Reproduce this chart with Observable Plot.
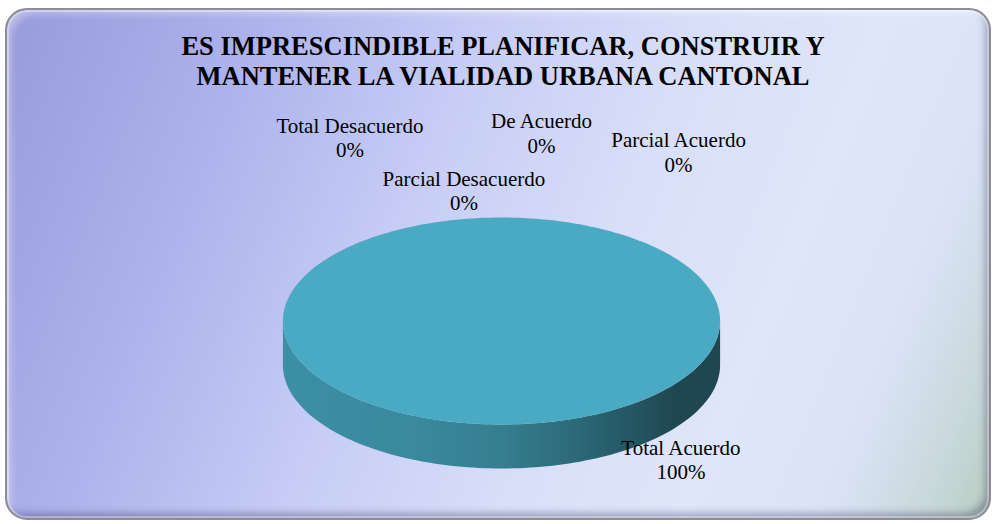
<!DOCTYPE html>
<html>
<head>
<meta charset="utf-8">
<script src="https://cdn.jsdelivr.net/npm/d3@7"></script>
<script src="https://cdn.jsdelivr.net/npm/@observablehq/plot@0.6"></script>
<style>
  html, body { margin: 0; padding: 0; background: #ffffff; }
  #wrap { position: relative; width: 994px; height: 524px; overflow: hidden; }
  #frame {
    position: absolute; left: 5px; top: 8px; width: 982px; height: 508px;
    border: 2px solid #8b8c95; border-radius: 22px;
    background: linear-gradient(112deg, #979bdb 0%, #aeb3ec 22%, #c6ccf5 40%, #d7def8 58%, #dfe6f9 74%, #dae3f6 86%, #c9d8dc 94%, #b9ccc0 100%);
    box-shadow: inset 0 0 0 2px rgba(255,255,255,0.35),
                inset 9px 9px 7px -5px rgba(255,255,255,0.35),
                inset -6px -7px 7px -2px rgba(40,40,80,0.35);
  }
  #title {
    position: absolute; left: 0; top: 31px; width: 1006px; text-align: center;
    font-family: "Liberation Serif", "Times New Roman", serif; font-weight: bold;
    font-size: 26.5px; line-height: 30px; color: #000;
  }
  #chart { position: absolute; left: 0; top: 0; }
</style>
</head>
<body>
<div id="wrap">
  <div id="frame"></div>
  <div id="title"></div>
  <div id="chart"></div>
</div>
<script>
// ---- data ----
const titleLines = ["ES IMPRESCINDIBLE PLANIFICAR, CONSTRUIR Y", "MANTENER LA VIALIDAD URBANA CANTONAL"];
const categories = ["Total Desacuerdo", "Parcial Desacuerdo", "De Acuerdo", "Parcial Acuerdo", "Total Acuerdo"];
const percentages = [0, 0, 0, 0, 100];

// ---- styles / layout (kept apart from data) ----
const sliceColors = ["#4F81BD", "#C0504D", "#9BBB59", "#8064A2", "#4AA9C3"];
const pieLayout = { cx: 501, cy: 320.5, rx: 218.6, ry: 103.5, depth: 44 };
// label anchor (unit pie coordinates: x across, y up), baseline of last line
const labelLayout = [[-0.693, 1.580], [-0.172, 1.068], [0.183, 1.628], [0.810, 1.444], [0.821, -1.531]];

document.getElementById("title").innerHTML = titleLines.join("<br>");

const pie = d3.pie().sort(null).startAngle(0).endAngle(2 * Math.PI)(percentages);
const slices = pie.map((p, i) => ({ cat: categories[i], a0: p.startAngle, a1: p.endAngle }));
const D = pieLayout.depth / pieLayout.ry;
const STEPS = 240;

const topPts = [];
slices.filter(s => s.a1 > s.a0).forEach(s => {
  const full = s.a1 - s.a0 >= 2 * Math.PI - 1e-9;
  if (!full) topPts.push({ cat: s.cat, x: 0, y: 0 });
  const n = Math.max(2, Math.ceil((s.a1 - s.a0) / (2 * Math.PI) * STEPS));
  for (let k = 0; k <= n; k++) {
    const a = s.a0 + (s.a1 - s.a0) * k / n;
    topPts.push({ cat: s.cat, x: Math.sin(a), y: Math.cos(a) });
  }
});

const sidePts = [];
slices.forEach(s => {
  const b0 = Math.max(s.a0, Math.PI / 2), b1 = Math.min(s.a1, 3 * Math.PI / 2);
  if (b1 <= b0) return;
  const n = Math.max(2, Math.ceil((b1 - b0) / (2 * Math.PI) * STEPS));
  const up = [], down = [];
  for (let k = 0; k <= n; k++) {
    const a = b0 + (b1 - b0) * k / n;
    up.push({ cat: s.cat, x: Math.sin(a), y: Math.cos(a) });
    down.push({ cat: s.cat, x: Math.sin(a), y: Math.cos(a) - D });
  }
  sidePts.push(...up, ...down.reverse());
});

const labels = categories.map((c, i) => ({
  label: `${c}\n${percentages[i]}%`, lx: labelLayout[i][0], ly: labelLayout[i][1]
}));

const { cx, cy, rx, ry } = pieLayout;
const chart = Plot.plot({
  width: 994, height: 524,
  margin: 0,
  style: { background: "none", fontFamily: "'Liberation Serif', 'Times New Roman', serif", overflow: "visible" },
  x: { domain: [-1, 1], range: [cx - rx, cx + rx], axis: null },
  y: { domain: [-1, 1], range: [cy + ry, cy - ry], axis: null },
  color: { domain: categories, range: sliceColors },
  marks: [
    Plot.line(sidePts, { x: "x", y: "y", z: "cat", fill: "url(#sideGrad)", stroke: "none", curve: "linear-closed" }),
    Plot.line(topPts, { x: "x", y: "y", z: "cat", fill: "cat", stroke: "none", curve: "linear-closed" }),
    Plot.text(labels, {
      x: "lx", y: "ly", text: "label", lineAnchor: "bottom", lineHeight: 1.18,
      fontSize: 21, fill: "#000", textAnchor: "middle"
    })
  ]
});

const defs = d3.select(chart).insert("defs", ":first-child");
const g = defs.append("linearGradient").attr("id", "sideGrad").attr("x1", 0).attr("x2", 1).attr("y1", 0).attr("y2", 0);
[[0, "#3C8FA5"], [0.3, "#3A899D"], [0.5, "#357E90"], [0.65, "#2E6C7B"], [0.8, "#245663"], [0.9, "#1F4751"], [1, "#1F4751"]]
  .forEach(([o, c]) => g.append("stop").attr("offset", o).attr("stop-color", c));

document.getElementById("chart").appendChild(chart);
</script>
</body>
</html>
